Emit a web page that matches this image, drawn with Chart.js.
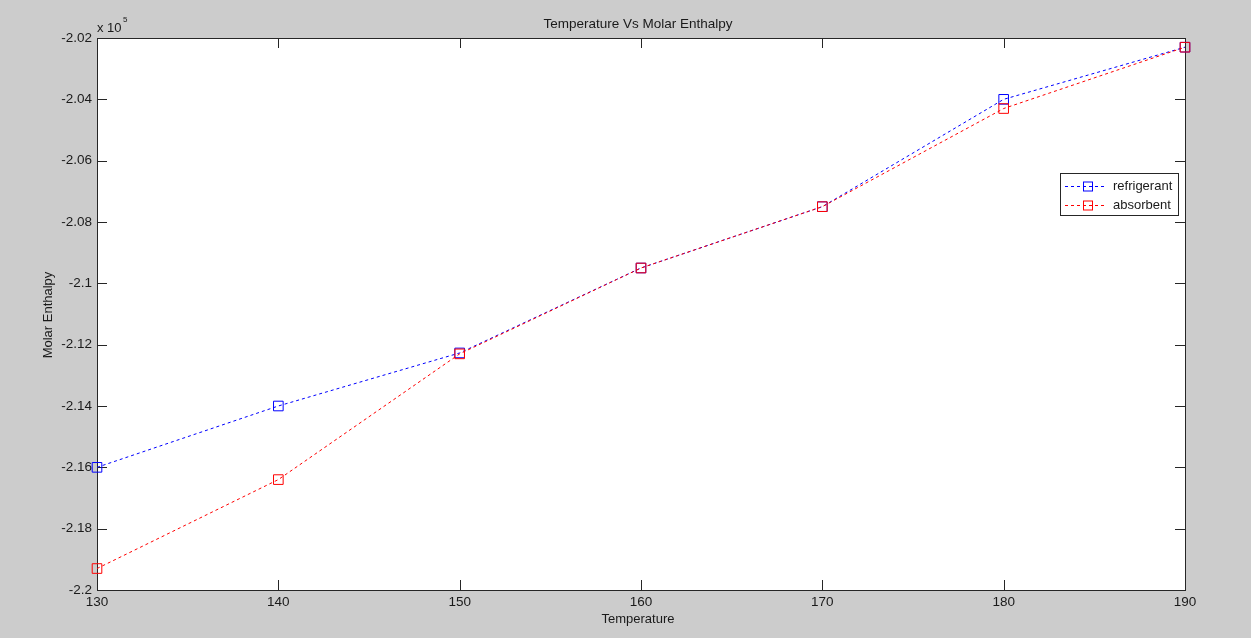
<!DOCTYPE html>
<html>
<head>
<meta charset="utf-8">
<title>Temperature Vs Molar Enthalpy</title>
<script src="https://cdn.jsdelivr.net/npm/chart.js@4.4.0/dist/chart.umd.min.js"></script>
<style>
  html, body { margin: 0; padding: 0; background: #cccccc; }
  #wrap { width: 1251px; height: 638px; }
</style>
</head>
<body>
<div id="wrap"><canvas id="grafico" width="1251" height="638"></canvas></div>
<script>
// Datos (entalpia molar, valores reales)
const temperaturas = [130, 140, 150, 160, 170, 180, 190];
const refrigerante = [-216000, -214000, -212270, -209500, -207500, -204000, -202300];
const absorbente = [-219300, -216400, -212300, -209500, -207500, -204300, -202300];
const ticksY = [-220000, -218000, -216000, -214000, -212000, -210000, -208000, -206000, -204000, -202000];

const COLOR_TEXTO = "#1a1a1a";
const FUENTE = "Liberation Sans, Arial, sans-serif";

// Fondo gris + area blanca, marco, ticks hacia adentro, titulo y leyenda
const estiloMatlab = {
    id: "estiloMatlab",
    beforeDraw(chart) {
        const ctx = chart.ctx;
        const a = chart.chartArea;
        ctx.save();
        ctx.fillStyle = "#cccccc";
        ctx.fillRect(0, 0, chart.width, chart.height);
        ctx.fillStyle = "#ffffff";
        ctx.fillRect(a.left, a.top, a.right - a.left, a.bottom - a.top);
        ctx.restore();
    },
    beforeDatasetsDraw(chart) {
        const ctx = chart.ctx;
        const a = chart.chartArea;
        const x = chart.scales.x;
        const y = chart.scales.y;
        ctx.save();
        // ticks hacia adentro
        const largo = 10;
        ctx.strokeStyle = "#262626";
        ctx.lineWidth = 1;
        ctx.beginPath();
        temperaturas.forEach(t => {
            const px = Math.round(x.getPixelForValue(t)) + 0.5;
            ctx.moveTo(px, a.bottom); ctx.lineTo(px, a.bottom - largo);
            ctx.moveTo(px, a.top); ctx.lineTo(px, a.top + largo);
        });
        ticksY.forEach(v => {
            const py = Math.round(y.getPixelForValue(v)) + 0.5;
            ctx.moveTo(a.left, py); ctx.lineTo(a.left + largo, py);
            ctx.moveTo(a.right, py); ctx.lineTo(a.right - largo, py);
        });
        ctx.stroke();
        // marco
        ctx.strokeRect(a.left + 0.5, a.top + 0.5, a.right - a.left, a.bottom - a.top);
        ctx.restore();
    },
    afterDraw(chart) {
        const ctx = chart.ctx;
        const a = chart.chartArea;
        ctx.save();

        // titulo y etiquetas de ejes
        ctx.fillStyle = COLOR_TEXTO;
        ctx.font = "13.5px " + FUENTE;
        ctx.textAlign = "center";
        ctx.textBaseline = "middle";
        ctx.fillText("Temperature Vs Molar Enthalpy", 638, 24);
        ctx.font = "13px " + FUENTE;
        ctx.fillText("Temperature", 638, 619);
        ctx.save();
        ctx.translate(48, 315);
        ctx.rotate(-Math.PI / 2);
        ctx.fillText("Molar Enthalpy", 0, 0);
        ctx.restore();

        // multiplicador x 10^5
        ctx.textAlign = "left";
        ctx.font = "13px " + FUENTE;
        ctx.fillText("x 10", a.left, 28);
        ctx.font = "8px " + FUENTE;
        ctx.fillText("5", a.left + 26, 20);

        // leyenda
        const lx = 1060, ly = 173, lw = 118, lh = 42;
        ctx.fillStyle = "#ffffff";
        ctx.fillRect(lx, ly, lw, lh);
        ctx.strokeStyle = "#262626";
        ctx.lineWidth = 1;
        ctx.strokeRect(lx + 0.5, ly + 0.5, lw, lh);
        chart.data.datasets.forEach((ds, i) => {
            const fy = Math.round(ly + 13 + i * 19) + 0.5;
            ctx.strokeStyle = ds.borderColor;
            ctx.setLineDash([3, 3]);
            ctx.beginPath();
            ctx.moveTo(lx + 5, fy); ctx.lineTo(lx + 46, fy);
            ctx.stroke();
            ctx.setLineDash([]);
            ctx.strokeRect(lx + 23.5, fy - 4.5, 9, 9);
            ctx.fillStyle = COLOR_TEXTO;
            ctx.font = "13px " + FUENTE;
            ctx.textAlign = "left";
            ctx.fillText(ds.label, lx + 53, fy);
        });
        ctx.restore();
    }
};

new Chart(document.getElementById("grafico"), {
    type: "line",
    data: {
        labels: temperaturas,
        datasets: [
            {
                label: "refrigerant",
                data: temperaturas.map((t, i) => ({ x: t, y: refrigerante[i] })),
                borderColor: "#0000ff",
                backgroundColor: "rgba(0,0,0,0)",
                borderWidth: 1,
                borderDash: [3, 3],
                pointStyle: "rect",
                pointRadius: 6.8,
                pointBorderWidth: 1,
                pointBackgroundColor: "rgba(0,0,0,0)",
                tension: 0,
                clip: false,
                order: 1
            },
            {
                label: "absorbent",
                data: temperaturas.map((t, i) => ({ x: t, y: absorbente[i] })),
                borderColor: "#ff0000",
                backgroundColor: "rgba(0,0,0,0)",
                borderWidth: 1,
                borderDash: [3, 3],
                pointStyle: "rect",
                pointRadius: 6.8,
                pointBorderWidth: 1,
                pointBackgroundColor: "rgba(0,0,0,0)",
                tension: 0,
                clip: false,
                order: 0
            }
        ]
    },
    options: {
        responsive: false,
        animation: false,
        layout: { padding: { top: 38, right: 66, left: 0, bottom: 0 } },
        plugins: {
            legend: { display: false },
            title: { display: false },
            tooltip: { enabled: false }
        },
        scales: {
            x: {
                type: "linear",
                min: 130,
                max: 190,
                grid: { display: false, drawTicks: false },
                border: { display: false },
                afterBuildTicks: scale => { scale.ticks = temperaturas.map(v => ({ value: v })); },
                afterFit: scale => { scale.height = 48; },
                ticks: {
                    color: COLOR_TEXTO,
                    font: { family: FUENTE, size: 13.5 },
                    padding: 4,
                    maxRotation: 0
                }
            },
            y: {
                type: "linear",
                min: -220000,
                max: -202000,
                grid: { display: false, drawTicks: false },
                border: { display: false },
                afterBuildTicks: scale => { scale.ticks = ticksY.map(v => ({ value: v })); },
                afterFit: scale => { scale.width = 97; },
                ticks: {
                    color: COLOR_TEXTO,
                    font: { family: FUENTE, size: 13.5 },
                    padding: 5,
                    callback: v => String(parseFloat((v / 1e5).toFixed(2)))
                }
            }
        }
    },
    plugins: [estiloMatlab]
});
</script>
</body>
</html>
